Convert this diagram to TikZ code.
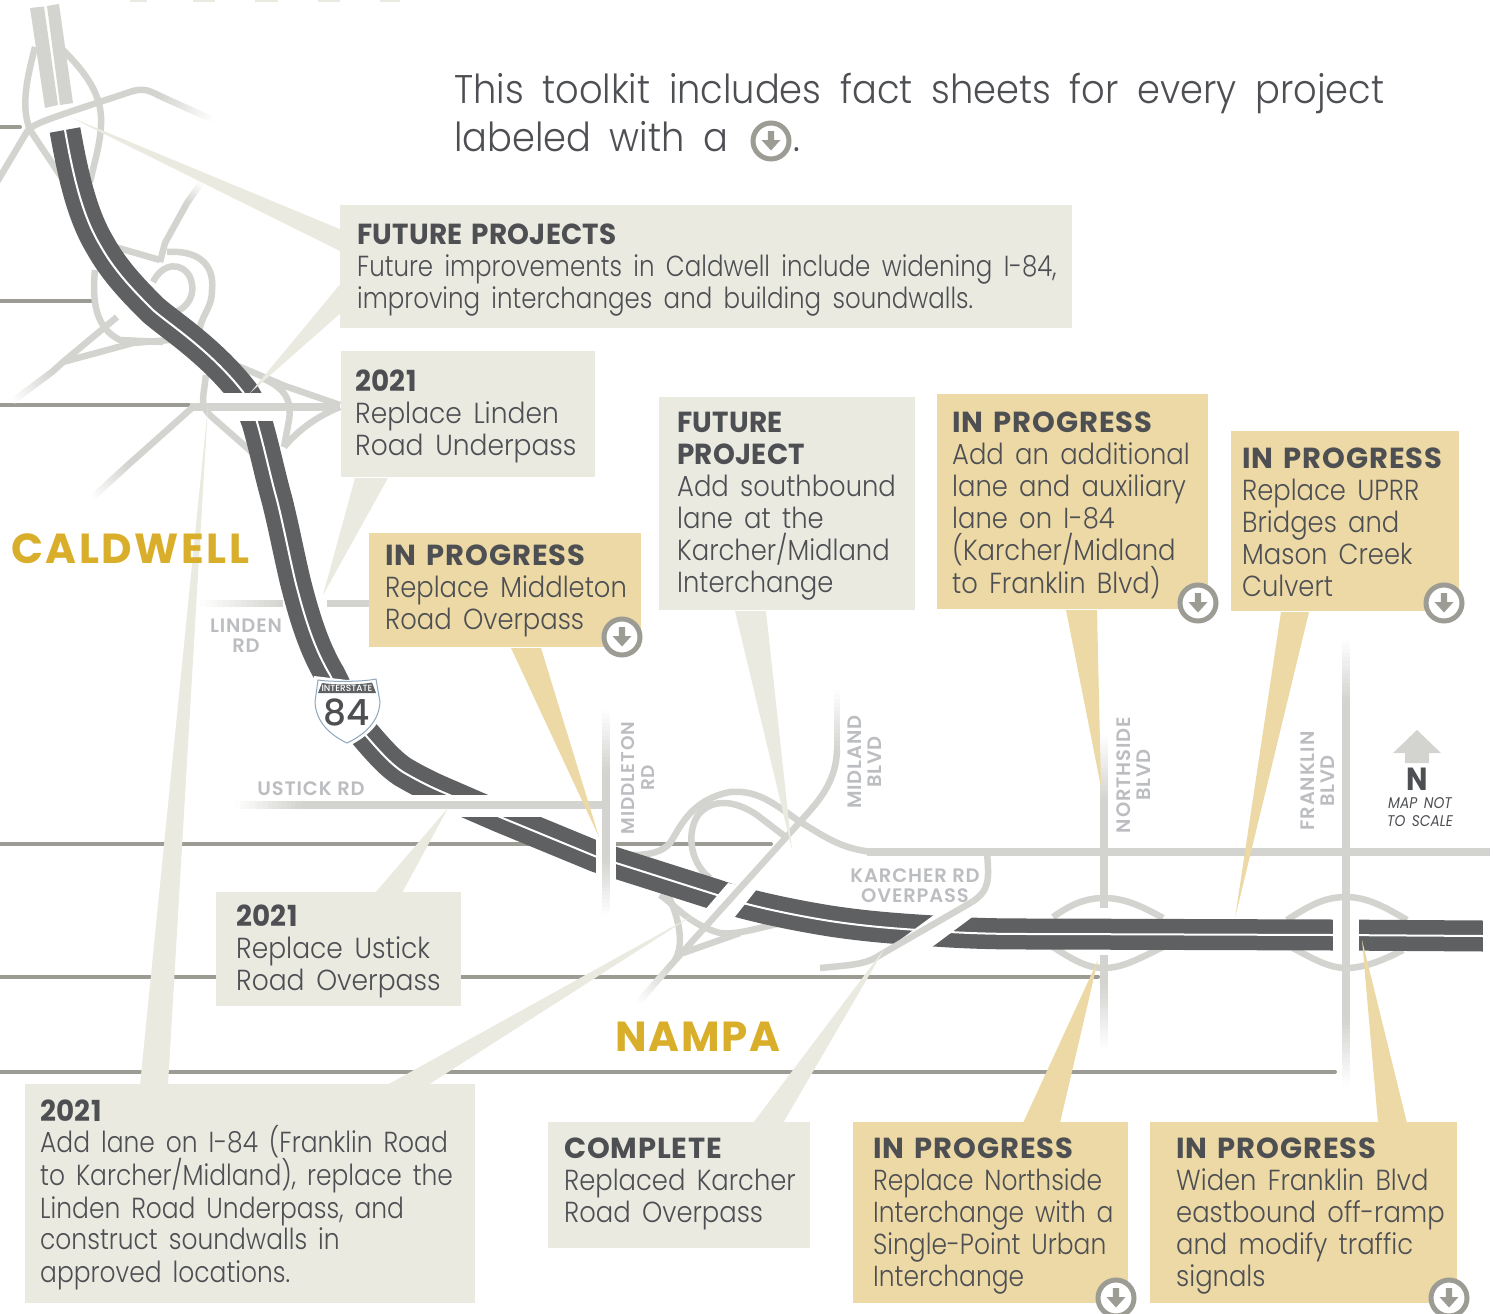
\documentclass[tikz,border=0pt]{standalone}
\usepackage{fontspec}
\usetikzlibrary{calc}
\setmainfont{Poppins Light}[BoldFont=Poppins Bold,ItalicFont=Poppins Italic,FakeStretch=0.89,WordSpace=1.6]
\newfontfamily\longf[FakeStretch=0.845,WordSpace=1.7]{Poppins Light}
\newfontfamily\lanef[FakeStretch=0.86,WordSpace=1.6]{Poppins Light}
\newfontfamily\widef[FakeStretch=0.915,WordSpace=1.6]{Poppins Light}
\newfontfamily\introf[FakeStretch=0.92,WordSpace=1.85]{Poppins Light}
\newfontfamily\headf[LetterSpace=3,WordSpace=1.5]{Poppins Bold}
\newfontfamily\headnf[LetterSpace=1,FakeStretch=0.96,WordSpace=1.4]{Poppins Bold}
\newfontfamily\labelf[LetterSpace=4.5]{Poppins SemiBold}
\newfontfamily\cityf[LetterSpace=6]{Poppins Bold}
\newfontfamily\cityb[LetterSpace=4]{Poppins Bold}
\newfontfamily\midf{Poppins Medium}
\definecolor{roadc}{HTML}{D3D4CF}
\definecolor{thinc}{HTML}{9C9C95}
\definecolor{freec}{HTML}{5F6062}
\definecolor{paleb}{HTML}{EAEAE1}
\definecolor{tanb}{HTML}{ECD9A5}
\definecolor{inkc}{HTML}{4D4F53}
\definecolor{labc}{HTML}{BCBDC0}
\definecolor{goldc}{HTML}{D9AE2A}
\definecolor{shieldc}{HTML}{8FA6BD}
\tikzset{
 thinroad/.style={draw=thinc,line width=4pt,line cap=round},
 road/.style={draw=roadc,line width=6.5pt,line join=round},
 mainroad/.style={draw=roadc,line width=8pt},
 paletail/.style={fill=paleb},
 tantail/.style={fill=tanb},
 palebox/.style={fill=paleb},
 tanbox/.style={fill=tanb},
 boxtext/.style={anchor=north west,inner sep=0pt,align=left,text=inkc,font=\fontsize{29}{32}\selectfont},
 roadlabel/.style={inner sep=0pt,align=center,text=labc,font=\labelf\fontsize{19.5}{20}\selectfont},
 city/.style={anchor=base west,inner sep=0pt,text=goldc,font=\cityf\fontsize{42}{44}\selectfont},
 freeway/.style={draw=freec,line width=31pt,line join=round,postaction={draw=white,line width=2pt}},
 gap/.style={fill=white},
 intro/.style={anchor=base west,inner sep=0pt,text=inkc,font=\introf\fontsize{40}{48}\selectfont},
}
\newcommand{\hd}[1]{{\headf #1}}
\newcommand{\hn}[1]{{\headnf #1}}
\newcommand{\fadeseg}[5][8pt]{% from faded (#2,#3) to solid (#4,#5)
 \foreach \i in {0,...,13}{
  \pgfmathsetmacro{\ta}{\i/14}\pgfmathsetmacro{\tb}{(\i+1.15)/14}\pgfmathsetmacro{\pc}{(\i+0.5)/14*100}
  \draw[draw=roadc!\pc!white,line width=#1] ($(#2,#3)!\ta!(#4,#5)$) -- ($(#2,#3)!\tb!(#4,#5)$);
 }}
\newcommand{\dlicon}[3]{%
 \node[circle,draw=thinc,fill=white,line width=5pt,minimum size=36pt,inner sep=0pt] (#1) at (#2,#3) {};
 \fill[thinc] ($(#1)+(-3.2,-10)$) -- ($(#1)+(3.2,-10)$) -- ($(#1)+(3.2,-1)$) -- ($(#1)+(9.5,-1)$) -- ($(#1)+(0,9.5)$) -- ($(#1)+(-9.5,-1)$) -- ($(#1)+(-3.2,-1)$) -- cycle;
}
\begin{document}
\begin{tikzpicture}[x=1pt,y=-1pt]
\useasboundingbox (0,0) rectangle (1500,1314);
\clip (0,0) rectangle (1500,1314);
% pale marks at the top edge
\foreach \a/\b in {130/147,193/215,255/278,318/340,380/400}{\fill[paleb] (\a,0) rectangle (\b,2);}
% thin grey roads
\draw[thinroad] (-5,127) -- (20,127);
\draw[thinroad] (-5,301) -- (91,301);
\draw[thinroad] (-5,405) -- (189,405);
\draw[thinroad] (-5,844) -- (771,844);
\draw[thinroad] (-5,976.5) -- (1098,976.5);
\draw[thinroad] (-5,1071.5) -- (1335,1071.5);
% Caldwell north interchange
\draw[road] (28,130) .. controls (38,122) and (45,120) .. (133,91) .. controls (145,88) and (150,91) .. (160,96);
\fadeseg[6.5pt]{213}{120}{160}{96}
\draw[road] (35,47) .. controls (28,75) and (20,105) .. (30,130) -- (62,178);
\draw[road] (63,50) .. controls (85,72) and (103,95) .. (101,125) .. controls (100,145) and (95,160) .. (90,182);
\draw[road] (28,130) -- (-3,182);
% Caldwell middle interchange
\draw[road] (115,247) -- (160,260);
\draw[road] (167,252) .. controls (195,250) and (215,262) .. (212,290) .. controls (212,310) and (200,315) .. (199,335);
\draw[road] (153,282) .. controls (163,262) and (182,262) .. (190,277) .. controls (197,295) and (187,308) .. (175,312);
\draw[road] (160,262) -- (165,243) -- (187,203);
\fadeseg[6.5pt]{201}{183}{187}{203}
\draw[road] (95,270) .. controls (92,300) and (95,328) .. (120,340) -- (163,342);
\draw[road] (117,317) -- (63,362) -- (52,372);
\fadeseg[6.5pt]{13}{401}{52}{372}
\draw[road] (63,362) -- (133,343) -- (170,340);
% Linden interchange
\draw[road] (238,366) -- (285,386) -- (340,405);
\draw[road] (262,378) .. controls (285,388) and (292,400) .. (289,420) -- (284,447);
\draw[road] (284,447) .. controls (300,428) and (320,415) .. (340,407);
\draw[road] (206,375) -- (203,398) .. controls (203,408) and (205,410) .. (212,417) -- (254,454);
\draw[road] (193,407) -- (128,465);
\fadeseg[6.5pt]{92}{498}{128}{465}
% Linden Rd under the freeway
\fadeseg[7pt]{200}{603}{282}{603}
\draw[mainroad,line width=7pt] (327,603) -- (372,603);
% Karcher interchange ramps
\draw[road,line width=8pt] (867,852) -- (1490,852);
\draw[road] (632,855) .. controls (650,855) and (662,852) .. (670,843) .. controls (680,828) and (690,800) .. (730,792) .. controls (755,790) and (770,800) .. (800,822) .. controls (820,833) and (840,850) .. (875,852);
\draw[road] (787,838) -- (757,815) .. controls (735,800) and (712,798) .. (698,815) .. controls (685,835) and (692,865) .. (710,878);
\draw[road] (660,895) .. controls (675,905) and (690,925) .. (720,933) .. controls (735,935) and (755,929) .. (777,924);
\draw[road] (668,895) .. controls (680,920) and (684,945) .. (675,960);
\draw[road] (683,953) -- (740,933);
% Karcher road connection
\draw[road] (987,852) .. controls (989,880) and (990,890) .. (972,902);
% Northside / Franklin diamonds
\draw[road] (1053,917) .. controls (1070,905) and (1085,898) .. (1104,898) .. controls (1123,898) and (1140,905) .. (1163,918);
\draw[road] (1047,943) .. controls (1070,958) and (1085,968) .. (1104,968) .. controls (1123,968) and (1140,958) .. (1163,947);
\draw[road] (1287,920) .. controls (1310,905) and (1325,897) .. (1346,897) .. controls (1367,897) and (1385,907) .. (1407,920);
\draw[road] (1293,948) .. controls (1315,960) and (1330,968) .. (1346,968) .. controls (1362,968) and (1380,962) .. (1403,950);
\draw[mainroad] (1104,800) -- (1104,908);
\fadeseg{1104}{735}{1104}{800}
\draw[mainroad] (1104,955) -- (1104,985);
\fadeseg{1104}{1048}{1104}{985}
% freeway
\path[freeway] (65,130) .. controls (73,175) and (82,215) .. (100,245) .. controls (115,272) and (135,292) .. (153,310) .. controls (170,325) and (210,350) .. (243,392) .. controls (249,401) and (253,411) .. (257,422) .. controls (265,450) and (270,475) .. (277,500) .. controls (284,528) and (288,550) .. (295,580) .. controls (305,620) and (315,650) .. (330,675) .. controls (340,695) and (352,720) .. (368,738) .. controls (380,752) and (392,765) .. (403,772) .. controls (420,782) and (435,789) .. (447,794) -- (500,817) -- (597,857) .. controls (603,859) and (610,861) .. (616,863) -- (717,895) .. controls (735,902) and (780,913) .. (830,921) .. controls (870,927) and (900,929) .. (950,932) .. controls (985,934) and (1010,934) .. (1040,934) -- (1333,935) -- (1483,936);
% north light section
\fill[roadc] (30,8) -- (44,6.5) -- (58,105) -- (45,108) -- cycle;
\fill[roadc] (47,6) -- (59,4) -- (73,103) -- (60,105) -- cycle;
% gaps in the freeway
\fill[gap] (222,393) rectangle (280,421);
\fill[gap] (400,795) rectangle (560,817);
\fill[gap] (596,835) rectangle (616,890);
\fill[gap] (728,883) -- (704,911) -- (734,918) -- (757,889) -- cycle;
\fill[gap] (938,912) -- (893,945) -- (928,950) -- (975,915) -- cycle;
\fill[gap] (1333,910) rectangle (1359,960);
\fill[gap] (1483,910) rectangle (1500,960);
% roads over the freeway
\draw[mainroad] (190,407) -- (340,407);
\draw[mainroad] (300,805) -- (606,805);
\fadeseg{235}{805}{300}{805}
\draw[mainroad] (606,770) -- (606,860);
\fadeseg{606}{710}{606}{770}
\fadeseg{606}{915}{606}{860}
\draw[road] (837,750) .. controls (836,785) and (815,805) .. (798,824) -- (670,966);
\fadeseg[6.5pt]{837}{690}{837}{750}
\fadeseg[6.5pt]{638}{1003}{670}{966}
\draw[road] (820,968) .. controls (850,965) and (865,965) .. (880,955) -- (972,902);
\draw[mainroad] (1346,700) -- (1346,1020);
\fadeseg{1346}{640}{1346}{700}
\fadeseg{1346}{1085}{1346}{1020}
% callout tails
\fill[paletail] (342,230) -- (342,252) -- (70,117) -- cycle;
\fill[paletail] (342,282) -- (342,312) -- (250,393) -- cycle;
\fill[paletail] (388,478) -- (355,478) -- (323,595) -- cycle;
\fill[tantail] (511,648) -- (541,648) -- (599,837) -- cycle;
\fill[paletail] (735,611) -- (766,611) -- (792,850) -- cycle;
\fill[tantail] (1066,610) -- (1097,610) -- (1101,787) -- cycle;
\fill[tantail] (1281,612) -- (1309,612) -- (1235,918) -- cycle;
\fill[paletail] (375,893) -- (402,893) -- (448,808) -- cycle;
\fill[paletail] (140,1085) -- (168,1085) -- (208,405) -- cycle;
\fill[paletail] (387,1085) -- (428,1085) -- (692,916) -- cycle;
\fill[paletail] (753,1123) -- (783,1123) -- (885,948) -- cycle;
\fill[tantail] (1023,1123) -- (1060,1123) -- (1098,960) -- cycle;
\fill[tantail] (1378,1123) -- (1407,1123) -- (1362,940) -- cycle;
% boxes
\fill[palebox] (340,205) rectangle (1072,328);
\fill[palebox] (341,351) rectangle (595,477);
\fill[tanbox] (369,533) rectangle (641,647);
\fill[palebox] (659,397) rectangle (915,610);
\fill[tanbox] (937,394) rectangle (1208,609);
\fill[tanbox] (1231,431) rectangle (1459,611);
\fill[palebox] (216,892) rectangle (461,1006);
\fill[palebox] (25,1084) rectangle (475,1303);
\fill[palebox] (548,1122) rectangle (810,1248);
\fill[tanbox] (853,1122) rectangle (1128,1303);
\fill[tanbox] (1150,1122) rectangle (1457,1303);
% box texts
\node[boxtext] (tfuture) at (357,224) {\hn{FUTURE PROJECTS}\\{\longf Future improvements in Caldwell include widening I-84,}\\{\longf improving interchanges and building soundwalls.}};
\node[boxtext] (tlinden) at (355,370) {\hn{2021}\\{\widef Replace Linden}\\{\widef Road Underpass}};
\node[boxtext] (tmiddle) at (385,545) {\hd{IN PROGRESS}\\Replace Middleton\\Road Overpass};
\node[boxtext] (tkarch) at (677,411.5) {\hn{FUTURE}\\\hn{PROJECT}\\Add southbound\\lane at the\\Karcher/Midland\\Interchange};
\node[boxtext] (tadd) at (952,411.5) {\hd{IN PROGRESS}\\Add an additional\\lane and auxiliary\\lane on I-84\\(Karcher/Midland\\to Franklin Blvd)};
\node[boxtext] (tuprr) at (1242,447.5) {\hd{IN PROGRESS}\\Replace UPRR\\Bridges and\\Mason Creek\\Culvert};
\node[boxtext] (tustick) at (236,904.5) {\hn{2021}\\{\widef Replace Ustick}\\{\widef Road Overpass}};
\node[boxtext] (tlane) at (40,1100) {\hn{2021}\\[-1.5pt]{\lanef Add lane on I-84 (Franklin Road}\\{\lanef to Karcher/Midland), replace the}\\{\lanef Linden Road Underpass, and}\\{\lanef construct soundwalls in}\\{\lanef approved locations.}};
\node[boxtext] (tdone) at (564,1138) {\hd{COMPLETE}\\Replaced Karcher\\Road Overpass};
\node[boxtext] (tnorth) at (873,1138) {\hd{IN PROGRESS}\\{\lanef Replace Northside}\\{\lanef Interchange with a}\\{\lanef Single-Point Urban}\\{\lanef Interchange}};
\node[boxtext] (tfrank) at (1176,1138) {\hd{IN PROGRESS}\\Widen Franklin Blvd\\eastbound off-ramp\\and modify traffic\\signals};
% icons
\dlicon{ia}{622}{637}
\dlicon{ib}{1198}{603}
\dlicon{ic}{1444}{603}
\dlicon{id}{1116}{1298}
\dlicon{ie}{1449}{1298}
\dlicon{if}{771}{141}
% intro
\node[intro] (intro1) at (454,103) {This toolkit includes fact sheets for every project};
\node[intro] (intro2) at (454,151) {labeled with a};
\node[intro] (intro3) at (793,151) {.};
% city labels
\node[city] (caldwell) at (11,563) {CALDWELL};
\node[city,font=\cityb\fontsize{42}{44}\selectfont] (nampa) at (615,1051) {NAMPA};
% road labels
\node[roadlabel] (llinden) at (246,636) {LINDEN\\RD};
\node[roadlabel] (lustick) at (311,789) {USTICK RD};
\node[roadlabel] (lkarch) at (915,886) {KARCHER RD\\OVERPASS};
\node[roadlabel,rotate=90,font=\labelf\fontsize{18.5}{20}\selectfont] (lmid) at (638,778) {MIDDLETON\\RD};
\node[roadlabel,rotate=90] (lmidl) at (865,762) {MIDLAND\\BLVD};
\node[roadlabel,rotate=90] (lnorth) at (1134,775) {NORTHSIDE\\BLVD};
\node[roadlabel,rotate=90] (lfrank) at (1318,781) {FRANKLIN\\BLVD};
% shield
\fill[white] (314,676) -- (347,680) -- (380,675) -- (384,705) .. controls (382,725) and (365,738) .. (347,747) .. controls (329,738) and (312,725) .. (311,705) -- cycle;
\draw[draw=shieldc,fill=white,line width=1pt] (318,680) .. controls (330,682) and (362,682) .. (376,679) -- (380,702) .. controls (379,722) and (364,735) .. (347,743) .. controls (330,735) and (316,722) .. (315,702) -- cycle;
\fill[freec] (322,683) .. controls (335,685) and (360,685) .. (372,682.5) -- (376,693) -- (318,693) -- cycle;
\node[inner sep=0pt,text=white,font=\midf\fontsize{9}{9}\selectfont] (shieldtop) at (347,688) {INTERSTATE};
\node[inner sep=0pt,text=inkc,font=\midf\fontsize{36}{36}\selectfont] (shieldnum) at (347,712) {84};
% north arrow
\fill[roadc] (1393,753) -- (1417,730) -- (1441,753) -- (1429,753) -- (1429,763) -- (1405,763) -- (1405,753) -- cycle;
\node[inner sep=0pt,text=inkc,font=\bfseries\fontsize{32}{32}\selectfont] (nlet) at (1417,779) {N};
\node[inner sep=0pt,align=center,text=inkc,font=\itshape\fontsize{15.5}{18}\selectfont] (nscale) at (1420,812) {MAP NOT\\TO SCALE};
\end{tikzpicture}
\end{document}
